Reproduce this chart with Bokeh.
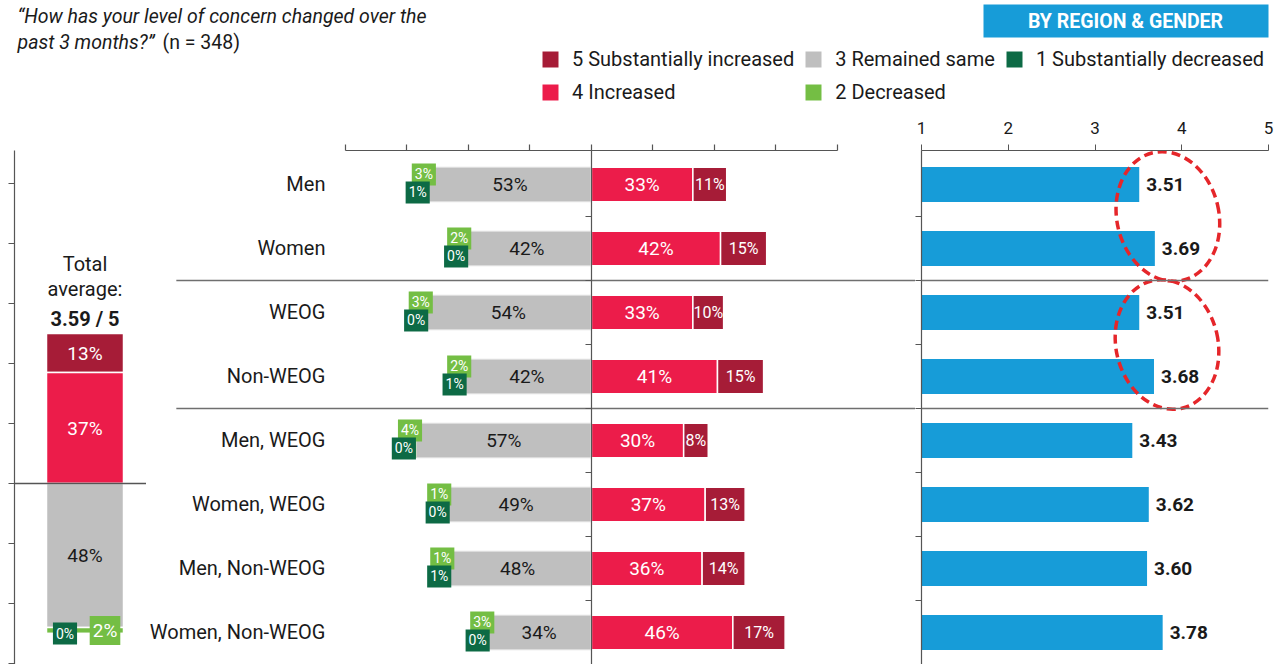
from bokeh.plotting import figure
from bokeh.models import (ColumnDataSource, Range1d, LinearAxis, FixedTicker,
                          Span, Legend, LegendItem, Label)
from bokeh.layouts import column, row
from bokeh.core.properties import value
from bokeh.embed import file_html
from bokeh.resources import INLINE

# ---------------- data ----------------
categories = ["Men", "Women", "WEOG", "Non-WEOG", "Men, WEOG", "Women, WEOG",
              "Men, Non-WEOG", "Women, Non-WEOG"]
sub_decreased = [1, 0, 0, 1, 0, 0, 1, 0]
decreased = [3, 2, 3, 2, 4, 1, 1, 3]
remained = [53, 42, 54, 42, 57, 49, 48, 34]
increased = [33, 42, 33, 41, 30, 37, 36, 46]
sub_increased = [11, 15, 10, 15, 8, 13, 14, 17]
average = [3.51, 3.69, 3.51, 3.68, 3.43, 3.62, 3.60, 3.78]
highlight_pairs = [("Men", "Women"), ("WEOG", "Non-WEOG")]
group_breaks_after = ["Women", "Non-WEOG"]

total_sub_increased = 13
total_increased = 37
total_remained = 48
total_decreased = 2
total_sub_decreased = 0
total_average = 3.59

title_line1 = "\u201cHow has your level of concern changed over the"
title_line2 = "past 3 months?\u201d"
title_n = "(n = 348)"
badge_text = "BY REGION & GENDER"
legend_labels = ["5 Substantially increased", "4 Increased", "3 Remained same",
                 "2 Decreased", "1 Substantially decreased"]
pct_ticks = [-80, -60, -40, -20, 0, 20, 40, 60, 80]
score_ticks = [1, 2, 3, 4, 5]
total_ticks = [-60, -40, -20, 0, 20, 40, 60, 80, 100]

# ---------------- style ----------------
C_SI = "#A61C37"
C_INC = "#EC1C4A"
C_SAME = "#BFBFBF"
C_DEC = "#74BE44"
C_SD = "#0D6A45"
C_BLUE = "#179CD8"
C_ELL = "#E5262A"
C_AXIS = "#555555"
C_SEP = "#6F6F6F"
C_TXT = "#1A1A1A"
FONT = "Roboto"

ROW_H = 556
BAR_H = 0.54


def clean(p):
    p.xgrid.grid_line_color = None
    p.ygrid.grid_line_color = None
    p.outline_line_color = None
    p.background_fill_color = "white"
    p.border_fill_color = "white"


def hidden_axis(ticks, **kw):
    return LinearAxis(ticker=FixedTicker(ticks=ticks), major_tick_out=6, major_tick_in=0,
                      major_label_overrides={t: "" for t in ticks}, major_label_standoff=0,
                      axis_line_color=C_AXIS, major_tick_line_color=C_AXIS,
                      minor_tick_line_color=None, axis_line_width=1.2,
                      major_tick_line_width=1.2, **kw)


n = len(categories)
ypos = list(range(n))
boundaries = [i + 0.5 for i in range(n)]
breaks = [categories.index(c) + 0.5 for c in group_breaks_after]

# ---------------- header ----------------
hdr = figure(width=1281, height=108, x_range=Range1d(0, 1281), y_range=Range1d(108, 0),
             min_border=0, x_axis_location=None, y_axis_location=None,
             output_backend="svg", toolbar_location=None)
clean(hdr)
hdr.add_layout(Label(x=17, y=16, text=title_line1, text_font=FONT, text_font_size="19.5px",
                     text_font_style="italic", text_baseline="middle", text_color=C_TXT))
hdr.add_layout(Label(x=17, y=42, text=title_line2, text_font=FONT, text_font_size="19.5px",
                     text_font_style="italic", text_baseline="middle", text_color=C_TXT))
hdr.add_layout(Label(x=162, y=42, text=title_n, text_font=FONT, text_font_size="19.5px",
                     text_baseline="middle", text_color=C_TXT))
hdr.quad(left=983, right=1268, top=4, bottom=37, fill_color=C_BLUE, line_color=None)
hdr.add_layout(Label(x=1125, y=21, text=badge_text, text_font=FONT, text_font_size="19.5px",
                     text_font_style="bold", text_align="center", text_baseline="middle",
                     text_color="white"))

leg_colors = [C_SI, C_INC, C_SAME, C_DEC, C_SD]
items = []
for lab, col in zip(legend_labels, leg_colors):
    # zero-width proxy bar: gives the legend its colour swatch
    r = hdr.hbar(y=[0], left=[0], right=[0], height=1, fill_color=col, line_color=None)
    items.append(LegendItem(label=lab, renderers=[r]))
legend = Legend(items=items, location=(540, 4), orientation="vertical", nrows=2,
                glyph_width=20, glyph_height=20, label_standoff=12, spacing=9,
                padding=0, margin=0, border_line_color=None, background_fill_alpha=0,
                label_text_font=FONT, label_text_font_size="20px", label_height=20,
                label_text_color=C_TXT, label_text_baseline="middle")
hdr.add_layout(legend, "center")

# ---------------- left: total ----------------
TOTAL_X = 0
left = figure(width=146, height=ROW_H, x_range=Range1d(-70.5, 61.5),
              y_range=Range1d(-60.33, 111), min_border_left=14, min_border_right=0,
              min_border_top=42, min_border_bottom=0, x_axis_location=None,
              y_axis_location=None, output_backend="svg", toolbar_location=None)
clean(left)
left.add_layout(hidden_axis(total_ticks), "left")
left.add_layout(Span(location=0, dimension="width", line_color=C_AXIS, line_width=1.3))

t_vals = [total_sub_increased, total_increased, total_remained, total_decreased,
          total_sub_decreased]
t_bottom = [total_increased, 0, -total_remained, -(total_remained + total_decreased),
            -(total_remained + total_decreased + total_sub_decreased)]
t_top = [total_increased + total_sub_increased, total_increased, 0, -total_remained,
         -(total_remained + total_decreased)]
t_mid = [(b + t) / 2 for b, t in zip(t_bottom, t_top)]
t_txt = [f"{v}%" for v in t_vals]
tsrc = ColumnDataSource(dict(x=[TOTAL_X] * 5, bottom=t_bottom, top=t_top,
                             color=leg_colors, mid=t_mid, txt=t_txt))
left.vbar(x="x", bottom="bottom", top="top", width=77, fill_color="color",
          line_color="white", line_width=1.5, source=tsrc)
big = ColumnDataSource(dict(x=[TOTAL_X] * 3, y=t_mid[:3], txt=t_txt[:3],
                            col=["white", "white", C_TXT]))
left.text(x="x", y="y", text="txt", source=big, text_align="center", text_baseline="middle",
          text_color="col", text_font=value(FONT), text_font_size="19px")
left.text(x=[TOTAL_X], y=[t_mid[3]], text=[t_txt[3]], x_offset=20,
          text_align="center", text_baseline="middle", text_color="white",
          text_font=value(FONT), text_font_size="19px", background_fill_color=C_DEC, padding=3)
left.text(x=[TOTAL_X], y=[t_mid[4]], text=[t_txt[4]], x_offset=-20,
          text_align="center", text_baseline="middle", text_color="white",
          text_font=value(FONT), text_font_size="14px", background_fill_color=C_SD, padding=3)
top_total = total_increased + total_sub_increased
hsrc = ColumnDataSource(dict(x=[TOTAL_X] * 3, y=[top_total] * 3,
                             txt=["Total", "average:", f"{total_average:.2f} / 5"],
                             off=[-70, -45, -15], style=["normal", "normal", "bold"]))
left.text(x="x", y="y", text="txt", y_offset="off", text_font_style="style", source=hsrc,
          text_align="center", text_baseline="middle", text_color=C_TXT,
          text_font=value(FONT), text_font_size="20px")

# ---------------- middle: diverging bars ----------------
yr = Range1d(7.5, -0.531)
mid = figure(width=769, height=ROW_H, x_range=Range1d(-144.7, 105.4), y_range=yr,
             min_border_left=0, min_border_right=0, min_border_top=42, min_border_bottom=0,
             x_axis_location=None, y_axis_location=None, output_backend="svg",
             toolbar_location=None)
clean(mid)
mid.add_layout(hidden_axis(pct_ticks, bounds=(-80, 80)), "above")
mid.add_layout(hidden_axis(boundaries, fixed_location=0), "left")
SEP_X0 = -135
mid.segment(x0=[SEP_X0] * len(breaks), x1=[mid.x_range.end] * len(breaks), y0=breaks,
            y1=breaks, line_color=C_SEP, line_width=1.5)

same_l = [-s for s in remained]
dec_l = [-(s + d) for s, d in zip(remained, decreased)]
sd_l = [-(s + d + q) for s, d, q in zip(remained, decreased, sub_decreased)]
si_r = [i + s for i, s in zip(increased, sub_increased)]
msrc = ColumnDataSource(dict(
    y=ypos, cat=categories, zero=[0] * n,
    same_l=same_l, dec_l=dec_l, sd_l=sd_l, inc_r=increased, si_r=si_r,
    same_c=[v / 2 for v in same_l],
    dec_c=[(a + b) / 2 for a, b in zip(same_l, dec_l)],
    sd_c=[(a + b) / 2 for a, b in zip(dec_l, sd_l)],
    inc_c=[v / 2 for v in increased],
    si_c=[(a + b) / 2 for a, b in zip(increased, si_r)],
    same_t=[f"{v}%" for v in remained], dec_t=[f"{v}%" for v in decreased],
    sd_t=[f"{v}%" for v in sub_decreased], inc_t=[f"{v}%" for v in increased],
    si_t=[f"{v}%" for v in sub_increased]))

mid.hbar(y="y", left="same_l", right="zero", height=BAR_H, fill_color=C_SAME,
         line_color="#E2E2E2", line_width=1, source=msrc)
mid.hbar(y="y", left="dec_l", right="same_l", height=BAR_H, fill_color=C_DEC,
         line_color=None, source=msrc)
mid.hbar(y="y", left="sd_l", right="dec_l", height=BAR_H, fill_color=C_SD,
         line_color=None, source=msrc)
mid.hbar(y="y", left="zero", right="inc_r", height=BAR_H, fill_color=C_INC,
         line_color="white", line_width=1.5, source=msrc)
mid.hbar(y="y", left="inc_r", right="si_r", height=BAR_H, fill_color=C_SI,
         line_color="white", line_width=1.5, source=msrc)

common = dict(source=msrc, text_align="center", text_baseline="middle",
              text_font=value(FONT))
mid.text(x="same_c", y="y", text="same_t", text_color=C_TXT, text_font_size="19px", **common)
mid.text(x="inc_c", y="y", text="inc_t", text_color="white", text_font_size="19px", **common)
mid.text(x="si_c", y="y", text="si_t", text_color="white", text_font_size="16px", **common)
mid.text(x="dec_c", y="y", text="dec_t", y_offset=-10, text_color="white",
         text_font_size="14px", background_fill_color=C_DEC, padding=3, **common)
mid.text(x="sd_c", y="y", text="sd_t", y_offset=8, text_color="white",
         text_font_size="14px", background_fill_color=C_SD, padding=3, **common)
LABEL_X = -86.5
mid.text(x=LABEL_X, y="y", text="cat", source=msrc, text_align="right",
         text_baseline="middle", text_color=C_TXT, text_font=value(FONT),
         text_font_size="20px")

# ---------------- right: averages ----------------
right = figure(width=366, height=ROW_H, x_range=Range1d(score_ticks[0], score_ticks[-1]),
               y_range=yr, min_border_left=6, min_border_right=13, min_border_top=42,
               min_border_bottom=0, x_axis_location=None, y_axis_location=None,
               output_backend="svg", toolbar_location=None)
clean(right)
top_ax = LinearAxis(ticker=FixedTicker(ticks=score_ticks), major_tick_out=6, major_tick_in=0,
                    major_label_text_font=FONT, major_label_text_font_size="17px",
                    major_label_text_color=C_TXT, major_label_standoff=11,
                    axis_line_color=C_AXIS, major_tick_line_color=C_AXIS,
                    minor_tick_line_color=None, axis_line_width=1.2)
right.add_layout(top_ax, "above")
right.add_layout(hidden_axis(boundaries), "left")
for b in breaks:
    right.add_layout(Span(location=b, dimension="width", line_color=C_SEP, line_width=1.5))
rsrc = ColumnDataSource(dict(y=ypos, start=[score_ticks[0]] * n, avg=average,
                             txt=[f"{v:.2f}" for v in average]))
right.hbar(y="y", left="start", right="avg", height=0.55, fill_color=C_BLUE,
           line_color=None, source=rsrc)
right.text(x="avg", y="y", text="txt", x_offset=7, source=rsrc, text_align="left",
           text_baseline="middle", text_color=C_TXT, text_font=value(FONT),
           text_font_size="19px", text_font_style="bold")

ex, ey = [], []
for a, b in highlight_pairs:
    ia, ib = categories.index(a), categories.index(b)
    ex.append(max(average[ia], average[ib]) + 0.15)
    ey.append((ia + ib) / 2)
right.ellipse(x=ex, y=ey, width=102, height=131, width_units="screen",
              height_units="screen", angle=0.23, fill_color=None, line_color=C_ELL,
              line_width=3.5, line_dash="9 5")

layout = column(hdr, row(left, mid, right))
open("out.html", "w").write(file_html(layout, INLINE))
